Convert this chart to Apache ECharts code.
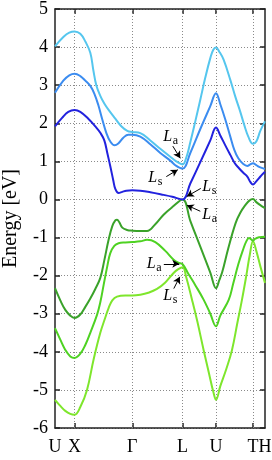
<!DOCTYPE html>
<html><head><meta charset="utf-8">
<script src="https://cdn.jsdelivr.net/npm/echarts@6/dist/echarts.min.js"></script>
<style>html,body{margin:0;padding:0;background:#fff}#c{width:272px;height:460px}</style>
</head><body><div id="c"></div>
<script>
// k-path positions of high-symmetry points and their labels
const kPos = [0, 19.6, 77.3, 127.6, 161.0, 198.0, 210.0];
const kLabels = ['U', 'X', 'Γ', 'L', 'U', 'T', 'H'];
const yMin = -6, yMax = 5, yStep = 1;

// Bands: [k, energy (eV)]
const bandCyan = [[0,4.02],[8.6,4.27],[14.3,4.38],[19.6,4.41],[25.3,4.35],[30.3,4.15],[35.3,3.85],[38.3,3.4],[41.3,3.0],[45.3,2.72],[49.3,2.52],[53.6,2.35],[60.3,2.12],[66.3,1.92],[72.3,1.80],[77.3,1.77],[85.3,1.74],[95.3,1.55],[105.3,1.33],[115.3,1.12],[121.3,1.0],[127.6,0.92],[131.3,1.1],[135.3,1.5],[140.3,2.05],[145.3,2.62],[150.3,3.2],[155.3,3.71],[158.3,3.93],[161,3.99],[164.3,3.88],[168.6,3.67],[175.3,3.14],[180.3,2.7],[185.3,2.3],[189.3,1.95],[193.3,1.65],[198,1.46],[201.3,1.52],[205.3,1.8],[210,2.05]];
const bandBlue = [[0,2.80],[8.3,3.12],[14.3,3.26],[19.6,3.30],[25.3,3.24],[30.3,3.12],[35.3,2.98],[39.3,2.78],[43.3,2.48],[47.3,2.10],[51.3,1.75],[55.3,1.52],[59.6,1.42],[63.3,1.47],[68.3,1.62],[73.3,1.70],[77.3,1.70],[85.3,1.65],[95.3,1.45],[105.3,1.22],[115.3,1.02],[121.3,0.88],[127.6,0.81],[135.3,1.22],[145.3,1.85],[155.3,2.45],[161,2.79],[165.3,2.5],[170.3,2.1],[175.3,1.65],[179.3,1.3],[183.3,1.08],[188.3,0.93],[192.3,0.88],[195.3,0.92],[198,0.95],[201.3,0.90],[205.3,0.84],[210,0.80]];
const bandDeepBlue = [[0,1.92],[7.3,2.15],[13.3,2.30],[19.6,2.35],[25.3,2.30],[33.3,2.12],[40.3,1.92],[45.3,1.75],[49.3,1.55],[52.3,1.22],[55.3,0.87],[58.3,0.50],[60.3,0.28],[63.6,0.17],[67.3,0.20],[71.3,0.23],[77.3,0.24],[85.3,0.23],[95.3,0.19],[108.6,0.12],[117.3,0.07],[127.6,0.0],[135.3,0.42],[145.3,0.98],[155.3,1.55],[161,1.89],[165.3,1.68],[170.3,1.42],[175.3,1.17],[179.8,0.95],[184,0.82],[188.3,0.70],[192.3,0.60],[195.3,0.46],[198,0.39],[200.8,0.46],[204,0.56],[207.3,0.66],[210,0.73]];
const bandDarkGreen = [[0,-2.33],[5.3,-2.65],[10.3,-2.90],[15.3,-3.05],[19.6,-3.11],[25.3,-3.02],[30.3,-2.82],[35.3,-2.60],[40.3,-2.35],[45.3,-2.06],[49.3,-1.60],[53.6,-1.06],[57.3,-0.70],[60.3,-0.55],[62,-0.53],[64.3,-0.60],[67.3,-0.74],[72,-0.80],[77.3,-0.82],[85.3,-0.83],[92,-0.83],[100.3,-0.65],[108.6,-0.40],[117.3,-0.20],[127.6,0.0],[135.3,-0.56],[145.3,-1.24],[155.3,-1.92],[161,-2.33],[164.3,-2.12],[167.3,-1.9],[173.3,-1.28],[180.6,-0.62],[185.3,-0.35],[190.3,-0.15],[194.3,-0.03],[198,0.01],[201.3,-0.07],[205.3,-0.15],[210,-0.23]];
const bandGreen = [[0,-3.38],[5.3,-3.68],[10.3,-3.95],[15.3,-4.12],[19.6,-4.16],[25.3,-4.05],[30.3,-3.82],[35.3,-3.50],[42,-3.03],[45.3,-2.70],[48.6,-2.25],[52.3,-1.75],[55.3,-1.41],[59.3,-1.22],[63.6,-1.15],[70.3,-1.13],[77.3,-1.12],[85.3,-1.10],[92,-1.06],[100.3,-1.12],[110.3,-1.35],[118.6,-1.58],[123.3,-1.66],[127.6,-1.70],[133.3,-1.95],[140.3,-2.25],[148.6,-2.63],[155.3,-3.0],[161,-3.33],[165.3,-3.05],[173.8,-2.63],[178.3,-2.2],[183.3,-1.7],[188.3,-1.3],[191.3,-1.1],[194,-1.01],[196.3,-1.05],[198,-1.08],[200.3,-1.03],[204,-0.99],[210,-0.98]];
const bandLightGreen = [[0,-5.26],[5.3,-5.42],[10.3,-5.55],[15.3,-5.63],[19.6,-5.65],[25.3,-5.45],[32,-5.00],[38.6,-4.20],[45.3,-3.50],[50.3,-3.10],[53.6,-2.85],[57.3,-2.65],[62,-2.55],[70.3,-2.52],[77.3,-2.52],[85.3,-2.50],[93.3,-2.45],[102,-2.35],[110.3,-2.18],[118.6,-1.93],[123.3,-1.83],[127.6,-1.78],[131.3,-2.05],[137,-2.63],[142.3,-3.20],[148.6,-3.95],[154.3,-4.60],[158.3,-5.05],[161,-5.26],[165.3,-4.90],[171.3,-4.45],[177,-3.95],[182.3,-3.25],[187,-2.63],[191.3,-2.00],[194.8,-1.45],[198,-1.10],[201.3,-1.35],[205.3,-1.75],[210,-2.19]];

// Annotations at L: subscript, text anchor, arrow start, arrow end (data coords)
const annSub = ['a', 's', 's', 'a', 'a', 's'];
const annText = [[108.3,1.65],[93.3,0.58],[147.3,0.33],[147.3,-0.40],[91.8,-1.69],[108.3,-2.53]];
const annFrom = [[117.8,1.40],[111.3,0.60],[145.8,0.29],[145.3,-0.31],[108.8,-1.69],[118.8,-2.34]];
const annTo = [[125.3,1.08],[122.8,0.78],[131.8,0.08],[131.8,-0.15],[124.3,-1.69],[124.8,-2.03]];

const FONT = 'Liberation Serif';
const GRIDC = '#8a8a8a';
const bands = [
  {d: bandLightGreen, c: '#7ee62c'},
  {d: bandGreen, c: '#4ed222'},
  {d: bandDarkGreen, c: '#3aa22a'},
  {d: bandDeepBlue, c: '#2222de'},
  {d: bandBlue, c: '#3b8cf0'},
  {d: bandCyan, c: '#55c6ee'}
];

const chart = echarts.init(document.getElementById('c'), null, {renderer: 'canvas'});
const axisLineStyle = {color: '#222', width: 1.5};
const tickStyle = {color: '#222', width: 1.5};
const grid = {left: 55, right: 7, top: 9, bottom: 32, outerBoundsMode: 'none'};

const series = bands.map(b => ({
  type: 'line', data: b.d, showSymbol: false, smooth: 0.4, z: 3,
  lineStyle: {color: b.c, width: 2}, itemStyle: {color: b.c}, silent: true, animation: false
}));
// vertical dotted grid lines at high-symmetry points
series[0].markLine = {
  silent: true, symbol: ['none', 'none'], animation: false, z: 1,
  label: {show: false}, emphasis: {disabled: true},
  lineStyle: {color: GRIDC, width: 1, type: [1, 2]},
  data: kPos.slice(1, 6).map(v => ({xAxis: v}))
};
// arrows of the annotations
series[5].markLine = {
  silent: true, animation: false, symbol: ['none', 'arrow'], symbolSize: [6, 7], z: 6,
  label: {show: false}, emphasis: {disabled: true},
  lineStyle: {color: '#000', width: 1, type: 'solid'},
  data: annFrom.map((f, i) => [{coord: f}, {coord: annTo[i]}])
};

chart.setOption({
  animation: false,
  grid: grid,
  xAxis: [{
    type: 'value', min: kPos[0], max: kPos[kPos.length - 1],
    axisLine: {show: true, onZero: false, lineStyle: axisLineStyle},
    axisTick: {show: true, inside: true, length: 5, lineStyle: tickStyle, customValues: kPos.slice(1, 6)},
    axisLabel: {show: true, customValues: kPos, margin: 10, color: '#000', fontFamily: FONT, fontSize: 18,
      formatter: v => { let bi = 0; kPos.forEach((p, i) => { if (Math.abs(p - v) < Math.abs(kPos[bi] - v)) bi = i; }); return kLabels[bi]; }},
    splitLine: {show: false}
  }, {
    type: 'value', position: 'top', min: kPos[0], max: kPos[kPos.length - 1],
    axisLine: {show: true, onZero: false, lineStyle: axisLineStyle},
    axisTick: {show: true, inside: true, length: 5, lineStyle: tickStyle, customValues: kPos.slice(1, 6)},
    axisLabel: {show: false}, splitLine: {show: false}
  }],
  yAxis: [{
    type: 'value', min: yMin, max: yMax, interval: yStep,
    name: 'Energy [eV]', nameLocation: 'middle', nameRotate: 90, nameGap: 34,
    nameTextStyle: {fontFamily: FONT, fontSize: 20, color: '#000'},
    axisLine: {show: true, onZero: false, lineStyle: axisLineStyle},
    axisTick: {show: true, inside: true, length: 5, lineStyle: tickStyle},
    axisLabel: {margin: 7, color: '#000', fontFamily: FONT, fontSize: 18},
    splitLine: {show: true, lineStyle: {color: GRIDC, width: 1, type: [1, 2]}}
  }, {
    type: 'value', position: 'right', min: yMin, max: yMax, interval: yStep,
    axisLine: {show: true, onZero: false, lineStyle: axisLineStyle},
    axisTick: {show: true, inside: true, length: 5, lineStyle: tickStyle},
    axisLabel: {show: false}, splitLine: {show: false}
  }],
  series: series
});

const graphics = [];
annText.forEach((p, i) => {
  const px = chart.convertToPixel({gridIndex: 0}, p);
  graphics.push({type: 'text', x: px[0], y: px[1], z: 10, silent: true,
    style: {text: 'L', fontFamily: FONT, fontStyle: 'italic', fontSize: 16, fill: '#000', textAlign: 'left', textVerticalAlign: 'middle'}});
  graphics.push({type: 'text', x: px[0] + 9.5, y: px[1] + 4, z: 10, silent: true,
    style: {text: annSub[i], fontFamily: FONT, fontSize: 12, fill: '#000', textAlign: 'left', textVerticalAlign: 'middle'}});
});
chart.setOption({graphic: graphics});
</script></body></html>
